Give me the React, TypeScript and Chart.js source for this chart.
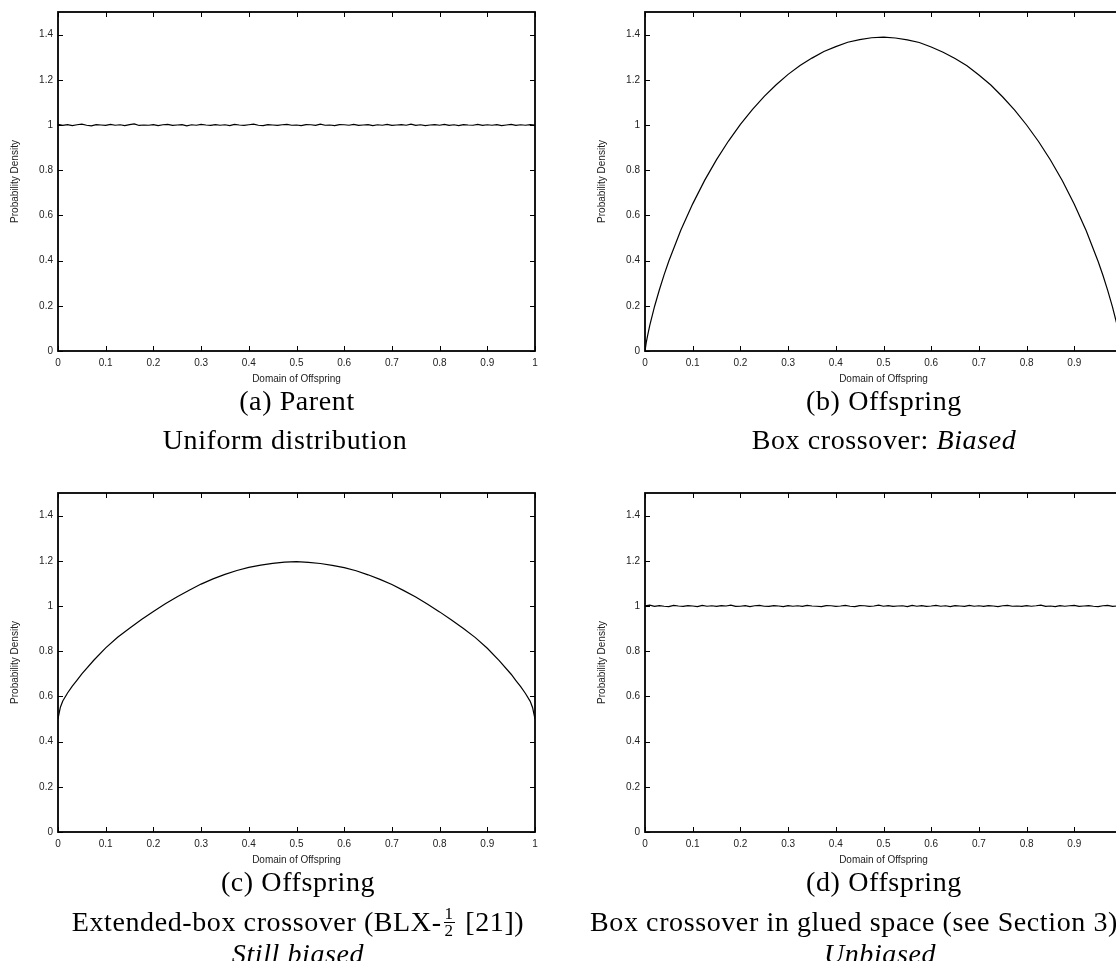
import React, { useEffect, useRef } from "react";
import { Chart, registerables } from "chart.js";

Chart.register(...registerables);

// ---------- tick labels ----------
const xTickValues = [0, 0.1, 0.2, 0.3, 0.4, 0.5, 0.6, 0.7, 0.8, 0.9, 1];
const xTickLabels = ["0", "0.1", "0.2", "0.3", "0.4", "0.5", "0.6", "0.7", "0.8", "0.9", "1"];
const yTickValues = [0, 0.2, 0.4, 0.6, 0.8, 1, 1.2, 1.4];
const yTickLabels = ["0", "0.2", "0.4", "0.6", "0.8", "1", "1.2", "1.4"];

// ---------- sample positions ----------
const flatX = [
  0, 0.01, 0.02, 0.03, 0.04, 0.05, 0.06, 0.07, 0.08, 0.09,
  0.1, 0.11, 0.12, 0.13, 0.14, 0.15, 0.16, 0.17, 0.18, 0.19,
  0.2, 0.21, 0.22, 0.23, 0.24, 0.25, 0.26, 0.27, 0.28, 0.29,
  0.3, 0.31, 0.32, 0.33, 0.34, 0.35, 0.36, 0.37, 0.38, 0.39,
  0.4, 0.41, 0.42, 0.43, 0.44, 0.45, 0.46, 0.47, 0.48, 0.49,
  0.5, 0.51, 0.52, 0.53, 0.54, 0.55, 0.56, 0.57, 0.58, 0.59,
  0.6, 0.61, 0.62, 0.63, 0.64, 0.65, 0.66, 0.67, 0.68, 0.69,
  0.7, 0.71, 0.72, 0.73, 0.74, 0.75, 0.76, 0.77, 0.78, 0.79,
  0.8, 0.81, 0.82, 0.83, 0.84, 0.85, 0.86, 0.87, 0.88, 0.89,
  0.9, 0.91, 0.92, 0.93, 0.94, 0.95, 0.96, 0.97, 0.98, 0.99, 1,
];

const curveX = [
  0, 0.0025, 0.005, 0.01, 0.02, 0.03, 0.04, 0.05, 0.075, 0.1,
  0.125, 0.15, 0.175, 0.2, 0.225, 0.25, 0.275, 0.3, 0.325, 0.35,
  0.375, 0.4, 0.425, 0.45, 0.475, 0.5, 0.525, 0.55, 0.575, 0.6,
  0.625, 0.65, 0.675, 0.7, 0.725, 0.75, 0.775, 0.8, 0.825, 0.85,
  0.875, 0.9, 0.925, 0.95, 0.96, 0.97, 0.98, 0.99, 0.995, 0.9975, 1,
];

// ---------- series values ----------
const parentDensity = [
  1.003, 0.998, 1.002, 0.997, 1.001, 1.004, 0.999, 0.996, 1.002, 1.0,
  0.998, 1.003, 0.999, 1.001, 0.997, 1.002, 1.005, 0.998, 1.0, 0.999,
  1.002, 0.997, 1.001, 1.003, 0.998, 1.0, 1.002, 0.996, 1.001, 0.999,
  1.003, 1.0, 0.998, 1.002, 0.999, 1.001, 0.997, 1.003, 1.0, 0.998,
  1.001, 1.004, 0.999, 0.997, 1.002, 1.0, 0.998, 1.001, 1.003, 0.999,
  1.0, 0.997, 1.002, 1.001, 0.998, 1.004, 0.999, 1.0, 0.997, 1.002,
  1.001, 0.999, 1.003, 0.998, 1.0, 1.002, 0.997, 1.001, 0.999, 1.003,
  0.998, 1.0, 1.002, 0.999, 1.004, 0.998, 1.001, 0.997, 1.0, 1.002,
  0.999, 1.003, 0.998, 1.001, 0.997, 1.002, 1.0, 0.999, 1.003, 0.998,
  1.001, 0.999, 1.002, 0.997, 1.0, 1.003, 0.998, 1.001, 0.999, 1.002, 1.0,
];

const boxDensity = [
  0.0, 0.036, 0.064, 0.113, 0.197, 0.27, 0.337, 0.398, 0.534, 0.651,
  0.755, 0.847, 0.929, 1.003, 1.068, 1.127, 1.178, 1.224, 1.263, 1.296,
  1.325, 1.347, 1.366, 1.378, 1.386, 1.389, 1.385, 1.377, 1.365, 1.345,
  1.322, 1.294, 1.262, 1.221, 1.177, 1.124, 1.066, 1.0, 0.927, 0.845,
  0.753, 0.649, 0.532, 0.396, 0.335, 0.268, 0.195, 0.112, 0.063, 0.035, 0.0,
];

const blxDensity = [
  0.5, 0.527, 0.552, 0.58, 0.615, 0.645, 0.672, 0.7, 0.76, 0.815,
  0.862, 0.902, 0.94, 0.976, 1.01, 1.041, 1.07, 1.097, 1.12, 1.14,
  1.157, 1.171, 1.181, 1.189, 1.194, 1.196, 1.193, 1.188, 1.18, 1.17,
  1.156, 1.138, 1.118, 1.095, 1.068, 1.04, 1.008, 0.974, 0.938, 0.9,
  0.86, 0.813, 0.758, 0.698, 0.67, 0.643, 0.613, 0.578, 0.55, 0.525, 0.5,
];

const gluedDensity = [
  1.001, 1.004, 0.998, 1.002, 0.999, 0.997, 1.003, 1.0, 0.998, 1.002,
  1.0, 0.997, 1.003, 0.999, 1.001, 0.998, 1.002, 1.0, 1.004, 0.998,
  0.999, 1.002, 0.997, 1.001, 1.003, 0.999, 0.998, 1.002, 1.0, 0.997,
  1.002, 0.999, 1.001, 0.998, 1.003, 1.0, 0.999, 0.997, 1.002, 1.001,
  0.998, 1.0, 1.003, 0.999, 0.997, 1.002, 1.001, 0.998, 1.0, 1.004,
  0.999, 1.002, 0.998, 1.0, 1.001, 0.997, 1.003, 0.999, 1.002, 0.998,
  1.0, 1.003, 0.999, 1.001, 0.997, 1.002, 1.0, 0.998, 1.003, 0.999,
  1.001, 0.998, 1.002, 1.0, 0.997, 1.001, 1.003, 0.999, 1.0, 0.998,
  1.002, 0.999, 1.001, 1.004, 0.998, 1.0, 0.997, 1.002, 0.999, 1.001,
  1.003, 0.998, 1.0, 1.002, 0.999, 0.997, 1.001, 1.003, 0.998, 1.0, 1.001,
];

// ---------- helpers ----------
const SANS = "'Liberation Sans', Arial, Helvetica, sans-serif";
const SERIF = "'Liberation Serif', 'DejaVu Serif', serif";

const framePlugin = {
  id: "gnuplotFrame",
  afterDraw(chart: any) {
    const { ctx, chartArea, scales } = chart;
    const { left, right, top, bottom } = chartArea;
    const x = scales.x;
    const y = scales.y;
    const tl = 5;
    ctx.save();
    ctx.strokeStyle = "#000";
    ctx.lineWidth = 1;
    ctx.beginPath();
    for (const t of x.ticks) {
      const px = Math.round(x.getPixelForValue(t.value)) + 0.5;
      ctx.moveTo(px, bottom);
      ctx.lineTo(px, bottom - tl);
      ctx.moveTo(px, top);
      ctx.lineTo(px, top + tl);
    }
    for (const t of y.ticks) {
      const py = Math.round(y.getPixelForValue(t.value)) + 0.5;
      ctx.moveTo(left, py);
      ctx.lineTo(left + tl, py);
      ctx.moveTo(right, py);
      ctx.lineTo(right - tl, py);
    }
    ctx.stroke();
    ctx.lineWidth = 1.8;
    ctx.strokeRect(left, top, right - left, bottom - top);
    ctx.restore();
  },
};

function DensityChart(props: { xs: number[]; ys: number[]; left: number; top: number }) {
  const ref = useRef<HTMLCanvasElement | null>(null);
  useEffect(() => {
    if (!ref.current) return;
    const points = props.xs.map((xv, i) => ({ x: xv, y: props.ys[i] }));
    const chart = new Chart(ref.current, {
      type: "line",
      data: {
        datasets: [
          {
            data: points,
            borderColor: "#000",
            borderWidth: 1.2,
            pointRadius: 0,
            tension: 0,
            fill: false,
          },
        ],
      },
      options: {
        responsive: false,
        animation: false,
        events: [],
        layout: { padding: { top: 12, right: 35, left: 0, bottom: 0 } },
        plugins: { legend: { display: false }, tooltip: { enabled: false }, title: { display: false } },
        scales: {
          x: {
            type: "linear",
            min: 0,
            max: 1,
            grid: { display: false, drawTicks: false },
            border: { display: false },
            afterBuildTicks: (scale: any) => {
              scale.ticks = xTickValues.map((v) => ({ value: v }));
            },
            afterFit: (scale: any) => {
              scale.height = 41;
            },
            ticks: {
              autoSkip: false,
              maxRotation: 0,
              padding: 6,
              color: "#222",
              font: { family: SANS, size: 10 },
              callback: (_v: any, i: number) => xTickLabels[i],
            },
            title: {
              display: true,
              text: "Domain of Offspring",
              color: "#222",
              font: { family: SANS, size: 10 },
              padding: { top: 0, bottom: 7 },
            },
          },
          y: {
            type: "linear",
            min: 0,
            max: 1.5,
            grid: { display: false, drawTicks: false },
            border: { display: false },
            afterBuildTicks: (scale: any) => {
              scale.ticks = yTickValues.map((v) => ({ value: v }));
            },
            afterFit: (scale: any) => {
              scale.width = 58;
            },
            ticks: {
              autoSkip: false,
              padding: 5,
              color: "#222",
              font: { family: SANS, size: 10 },
              callback: (_v: any, i: number) => yTickLabels[i],
            },
            title: {
              display: true,
              text: "Probability Density",
              color: "#222",
              font: { family: SANS, size: 10 },
              padding: { top: 9, bottom: 0 },
            },
          },
        },
      },
      plugins: [framePlugin],
    });
    return () => chart.destroy();
  }, []);
  return (
    <canvas
      ref={ref}
      width={570}
      height={392}
      style={{ position: "absolute", left: props.left, top: props.top, width: 570, height: 392 }}
    />
  );
}

function Caption(props: { cx: number; cy: number; size?: number; children: any }) {
  const size = props.size ?? 28;
  return (
    <div
      style={{
        position: "absolute",
        left: props.cx - 400,
        top: props.cy - size * 0.62,
        width: 800,
        textAlign: "center",
        fontFamily: SERIF,
        fontSize: size,
        letterSpacing: "0.6px",
        lineHeight: `${size * 1.2}px`,
        color: "#000",
        whiteSpace: "nowrap",
      }}
    >
      {props.children}
    </div>
  );
}

function Half() {
  return (
    <span
      style={{
        display: "inline-flex",
        flexDirection: "column",
        alignItems: "center",
        verticalAlign: "middle",
        fontSize: 17,
        lineHeight: "16px",
        margin: "0 3px 0 2px",
        position: "relative",
        top: -2,
      }}
    >
      <span style={{ borderBottom: "1.3px solid #000", padding: "0 1px" }}>1</span>
      <span>2</span>
    </span>
  );
}

export default function App() {
  return (
    <div
      style={{
        position: "absolute",
        left: 0,
        top: 0,
        width: 1116,
        height: 961,
        overflow: "hidden",
        background: "#fff",
      }}
    >
      <DensityChart xs={flatX} ys={parentDensity} left={0} top={0} />
      <DensityChart xs={curveX} ys={boxDensity} left={587} top={0} />
      <DensityChart xs={curveX} ys={blxDensity} left={0} top={481} />
      <DensityChart xs={flatX} ys={gluedDensity} left={587} top={481} />

      <Caption cx={297} cy={401}>(a) Parent</Caption>
      <Caption cx={285} cy={440}>Uniform distribution</Caption>

      <Caption cx={884} cy={401}>(b) Offspring</Caption>
      <Caption cx={884} cy={440}>
        Box crossover: <i>Biased</i>
      </Caption>

      <Caption cx={298} cy={882}>(c) Offspring</Caption>
      <Caption cx={298} cy={922}>
        Extended-box crossover (BLX-<Half /> [21])
      </Caption>
      <Caption cx={298} cy={954}>
        <i>Still biased</i>
      </Caption>

      <Caption cx={884} cy={882}>(d) Offspring</Caption>
      <Caption cx={854} cy={922}>Box crossover in glued space (see Section 3)</Caption>
      <Caption cx={880} cy={954}>
        <i>Unbiased</i>
      </Caption>
    </div>
  );
}
